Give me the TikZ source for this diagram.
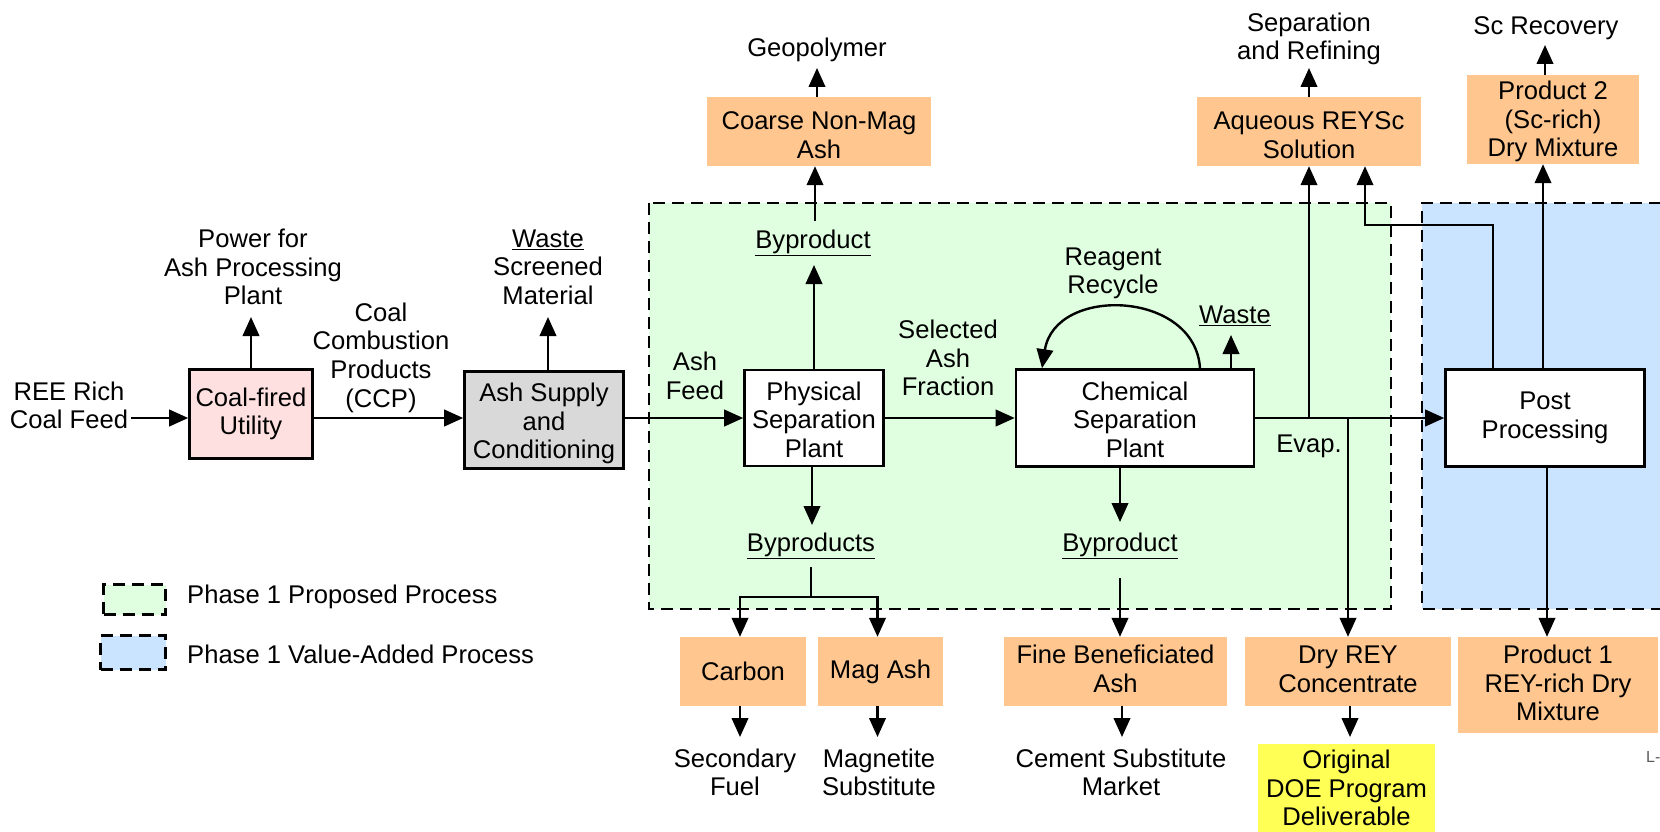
\documentclass[tikz,border=0pt]{standalone}
\usepackage{fontspec}
\setmainfont{Liberation Sans}
\usetikzlibrary{arrows.meta}
\definecolor{orng}{RGB}{255,199,143}
\definecolor{grn}{RGB}{224,255,224}
\definecolor{blu}{RGB}{202,228,255}
\definecolor{pnk}{RGB}{255,224,224}
\definecolor{gry}{RGB}{217,217,217}
\definecolor{yel}{RGB}{255,255,85}
\definecolor{lgray}{RGB}{90,90,90}
\newcommand\myfs{\fontsize{25.6}{28.6}\selectfont}
\newcommand\tstr[1]{\rule{0pt}{#1pt}}
\begin{document}
\begin{tikzpicture}[x=1pt,y=-1pt,
 txt/.style={font=\myfs, align=center, inner sep=0pt},
 pbox/.style={draw, line width=2.6pt, font=\myfs, align=center, inner sep=0pt},
 obox/.style={fill=orng, font=\myfs, align=center, inner sep=0pt},
 arr/.style={line width=2.4pt, -{Triangle[length=19pt,width=16.5pt]}},
 ln/.style={line width=2.4pt},
 region/.style={line width=2.6pt, dash pattern=on 12pt off 7pt},
 tup/.style={execute at end node={\rule[-#1pt]{0pt}{#1pt}}},
]
\useasboundingbox (0,0) rectangle (1660,832);

% regions
\fill[grn] (649,203) rectangle (1391,609);
\draw[region] (649,203) rectangle (1391,609);
\fill[blu] (1422,203) rectangle (1680,609);
\draw[region] (1680,203) -- (1422,203) -- (1422,609) -- (1680,609);

% legend
\node[draw, fill=grn, region, minimum width=62pt, minimum height=30pt, inner sep=0pt] (lg1) at (134.5,599.5) {};
\node[txt, anchor=west] (lt1) at (187,597) {Phase 1 Proposed Process};
\node[draw, fill=blu, region, minimum width=65pt, minimum height=34pt, inner sep=0pt] (lg2) at (133,652.5) {};
\node[txt, anchor=west] (lt2) at (187,654) {Phase 1 Value-Added Process};

% left part
\node[txt] (ree) at (69,405.5) {REE Rich\\Coal Feed};
\coordinate (f0) at (131,418);
\node[pbox, fill=pnk, minimum width=123pt, minimum height=89pt] (util) at (251,414) {Coal-fired\\Utility};
\draw[arr] (f0) -- (f0 -| util.west);
\node[txt] (pow) at (253,267) {Power for\\Ash Processing\\Plant};
\coordinate (powtip) at (251,317);
\draw[arr] (util.north) -- (powtip);

\node[txt] (ccp) at (381,357.5) {Coal\\Combustion\\Products\\(CCP)};
\node[pbox, fill=gry, minimum width=159pt, minimum height=97pt] (ash) at (544,420) {\tstr{26}Ash Supply\\and\\Conditioning};
\draw[arr] (util.east |- f0) -- (ash.west |- f0);
\node[txt] (wst1) at (548,267) {\underline{Waste}\\Screened\\Material};
\coordinate (wst1tip) at (548,317);
\draw[arr] (ash.north -| wst1tip) -- (wst1tip);

% physical separation
\node[txt] (feed) at (695,376) {Ash\\Feed};
\node[pbox, fill=white, minimum width=139pt, minimum height=96pt] (phys) at (814,418) {\tstr{22}Physical\\Separation\\Plant};
\draw[arr] (ash.east |- f0) -- (phys.west |- f0);

\node[txt] (bp1) at (813,243) {\underline{Byproduct}};
\coordinate (bp1tip) at (814,265);
\draw[arr] (phys.north) -- (bp1tip);
\node[obox, minimum width=224pt, minimum height=69pt] (coarse) at (819,131.5) {\tstr{25}Coarse Non-Mag\\Ash};
\coordinate (bp1top) at (815,221);
\draw[arr] (bp1top) -- (bp1top |- coarse.south);
\node[txt] (geo) at (817,50) {Geopolymer};
\coordinate (geotip) at (817,68);
\draw[arr] (coarse.north -| geotip) -- (geotip);

% chemical separation
\node[txt] (sel) at (948,358) {Selected\\Ash\\Fraction};
\node[pbox, fill=white, minimum width=238pt, minimum height=97pt] (chem) at (1135,418) {\tstr{22}Chemical\\Separation\\Plant};
\draw[arr] (phys.east) -- (chem.west);
\node[txt] (rec) at (1113,273.5) {Reagent\\Recycle};
\draw[arr] ([xshift=65pt]chem.north) .. controls +(-5,-78) and +(13,-83) .. ([xshift=-93pt]chem.north);
\node[txt] (wst2) at (1235,316) {\underline{Waste}};
\coordinate (wst2tip) at (1231,335);
\draw[arr] (chem.north -| wst2tip) -- (wst2tip);

\coordinate (bp2tip) at (1120,522);
\draw[arr] (chem.south -| bp2tip) -- (bp2tip);
\node[txt] (bp2) at (1120,546) {\underline{Byproduct}};
\node[obox, minimum width=223pt, minimum height=69pt, tup=5] (fine) at (1115.5,671.5) {Fine Beneficiated\\Ash};
\coordinate (bp2bot) at (1120,578);
\draw[arr] (bp2bot) -- (bp2bot |- fine.north);
\coordinate (cemtip) at (1122,737);
\draw[arr] (fine.south -| cemtip) -- (cemtip);
\node[txt] (cem) at (1121,772.5) {Cement Substitute\\Market};

% physical byproducts
\coordinate (bpstip) at (812,525);
\draw[arr] (phys.south -| bpstip) -- (bpstip);
\node[txt] (bps) at (811,546) {\underline{Byproducts}};
\coordinate (bpsbot) at (811,567);
\coordinate (split) at (811,597);
\node[obox, minimum width=126pt, minimum height=69pt] (carbon) at (743,671.5) {Carbon};
\node[obox, minimum width=125pt, minimum height=69pt] (mag) at (880.5,671.5) {Mag Ash};
\draw[ln] (bpsbot) -- (split);
\draw[arr] (split) -| ([xshift=-3pt]carbon.north);
\draw[arr] (split) -| ([xshift=-3pt]mag.north);
\node[txt] (sec) at (735,772.5) {Secondary\\Fuel};
\node[txt] (magn) at (879,772.5) {Magnetite\\Substitute};
\draw[arr] ([xshift=-3pt]carbon.south) -- ([xshift=-3pt]carbon.south |- cemtip);
\draw[arr] ([xshift=-3pt]mag.south) -- ([xshift=-3pt]mag.south |- cemtip);

% post processing
\node[pbox, fill=white, minimum width=199pt, minimum height=97pt] (post) at (1545,418) {Post\\Processing};
\draw[arr] (chem.east) -- (post.west);
\coordinate (j1) at (1309,418);
\coordinate (j2) at (1348,418);
\node[obox, minimum width=224pt, minimum height=69pt] (aq) at (1309,131.5) {\tstr{25}Aqueous REYSc\\Solution};
\draw[arr] (j1) -- (aq.south);
\node[obox, minimum width=206pt, minimum height=69pt, tup=5] (dry) at (1348,671.5) {Dry REY\\Concentrate};
\draw[arr] (j2) -- (dry.north);
\node[txt] (evap) at (1309,446) {Evap.};
\coordinate (ret) at (1365,225);
\draw[arr] ([xshift=-52pt]post.north) |- (ret) -- (ret |- aq.south);

\node[txt] (sep) at (1309,39) {Separation\\and Refining};
\coordinate (septip) at (1309,68);
\draw[arr] (aq.north) -- (septip);
\node[obox, minimum width=172pt, minimum height=89pt] (prod2) at (1553,119.5) {\tstr{23}Product 2\\(Sc-rich)\\Dry Mixture};
\draw[arr] ([xshift=-2pt]post.north) -- ([xshift=-2pt]post.north |- prod2.south);
\node[txt] (sc) at (1546,28) {Sc Recovery};
\coordinate (sctip) at (1545,45);
\draw[arr] (prod2.north -| sctip) -- (sctip);
\node[obox, minimum width=200pt, minimum height=96pt, tup=4] (prod1) at (1558,685) {Product 1\\REY-rich Dry\\Mixture};
\draw[arr] ([xshift=2pt]post.south) -- ([xshift=2pt]post.south |- prod1.north);
\node[fill=yel, font=\myfs, align=center, inner sep=0pt, minimum width=177pt, minimum height=88pt] (doe) at (1346.5,788) {Original\\DOE Program\\Deliverable};
\coordinate (doetip) at (1350,737);
\draw[arr] (dry.south -| doetip) -- (doetip);
\node[font=\fontsize{16}{18}\selectfont, text=lgray, anchor=west, inner sep=0pt] (lmark) at (1646,757) {L-};
\end{tikzpicture}
\end{document}
